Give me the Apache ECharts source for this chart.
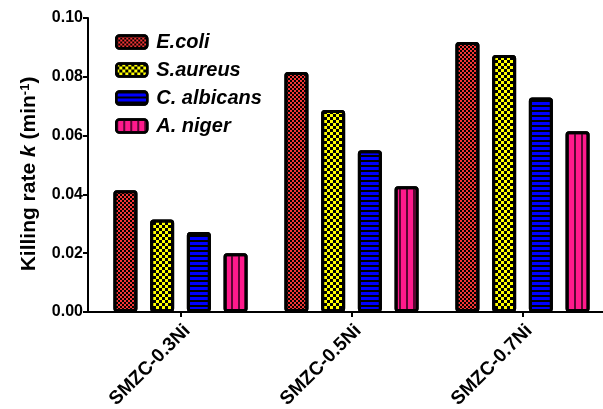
<!DOCTYPE html>
<html><head><meta charset="utf-8">
<script src="https://cdn.jsdelivr.net/npm/echarts@6/dist/echarts.min.js"></script>
<style>html,body{margin:0;padding:0;background:#fff}#c{width:603px;height:409px}</style>
</head><body><div id="c"></div>
<script>
const categories = ['SMZC-0.3Ni', 'SMZC-0.5Ni', 'SMZC-0.7Ni'];
const seriesNames = ['E.coli', 'S.aureus', 'C. albicans', 'A. niger'];
const ecoli = [0.0414, 0.0816, 0.0918];
const saureus = [0.0315, 0.0687, 0.0874];
const calbicans = [0.0272, 0.0550, 0.0730];
const aniger = [0.0200, 0.0428, 0.0615];
const yTicks = [0, 0.02, 0.04, 0.06, 0.08, 0.10];

const FONT = 'Liberation Sans, Arial, sans-serif';
const colors = ['#f53535', '#ffff00', '#0000ff', '#ff1a8c'];
const decals = [
  {symbol: 'rect', symbolSize: 1, color: '#000', dashArrayX: [[2, 2], [0, 2, 2, 0]], dashArrayY: [2, 0]},
  {symbol: 'rect', symbolSize: 1, color: '#000', dashArrayX: [[3, 3], [0, 3, 3, 0]], dashArrayY: [3, 0]},
  {symbol: 'rect', symbolSize: 1, color: '#000', dashArrayX: [1, 0], dashArrayY: [1.5, 3]},
  {symbol: 'rect', symbolSize: 1, color: '#5a0632', dashArrayX: [2, 5], dashArrayY: [1, 0]}
];
const values = [ecoli, saureus, calbicans, aniger];

const chart = echarts.init(document.getElementById('c'), null, {renderer: 'canvas'});
chart.setOption({
  animation: false,
  backgroundColor: '#fff',
  textStyle: {fontFamily: FONT},
  grid: {left: 95, top: 18, width: 513, bottom: 97, containLabel: false, outerBoundsMode: 'none'},
  legend: {
    orient: 'vertical', left: 110, top: 27,
    itemWidth: 31, itemHeight: 13, itemGap: 8,
    itemStyle: {borderColor: '#000', borderWidth: 2.5},
    textStyle: {fontSize: 20, fontWeight: 'bold', fontStyle: 'italic', color: '#000', fontFamily: FONT, padding: [0, 0, 0, 4]},
    data: seriesNames
  },
  xAxis: {
    type: 'category', data: categories,
    axisLine: {lineStyle: {color: '#000', width: 2}},
    axisTick: {show: true, alignWithLabel: true, length: 5, lineStyle: {color: '#000', width: 2}},
    axisLabel: {rotate: 45, fontSize: 19, fontWeight: 'bold', color: '#000', margin: 9, verticalAlign: 'top', fontFamily: FONT}
  },
  yAxis: {
    type: 'value', min: 0, max: 0.1, interval: 0.02, offset: 7,
    name: '{b|Killing rate }{i|k}{b| (min}{s|-1}{b|)}',
    nameLocation: 'middle', nameGap: 48, nameRotate: 90,
    nameTextStyle: {
      padding: [0, 18, 0, 0],
      rich: {
        b: {fontSize: 21, fontWeight: 'bold', color: '#000', fontFamily: FONT},
        i: {fontSize: 21, fontWeight: 'bold', fontStyle: 'italic', color: '#000', fontFamily: FONT},
        s: {fontSize: 13, fontWeight: 'bold', color: '#000', fontFamily: FONT, verticalAlign: 'top', padding: [0, 0, 8, 0]}
      }
    },
    axisLine: {show: true, lineStyle: {color: '#000', width: 2}},
    axisTick: {show: true, length: 5, lineStyle: {color: '#000', width: 2}},
    splitLine: {show: false},
    axisLabel: {fontSize: 16, fontWeight: 'bold', color: '#000', margin: 5, fontFamily: FONT,
      formatter: v => v.toFixed(2)}
  },
  graphic: [{type: 'line', shape: {x1: 88, y1: 312, x2: 96, y2: 312}, style: {stroke: '#000', lineWidth: 2}}],
  series: seriesNames.map((n, i) => ({
    name: n, type: 'bar', data: values[i],
    barWidth: 24, barGap: '53%',
    itemStyle: {color: colors[i], borderColor: '#000', borderWidth: 3, borderRadius: 2, decal: decals[i]}
  }))
});
</script></body></html>
